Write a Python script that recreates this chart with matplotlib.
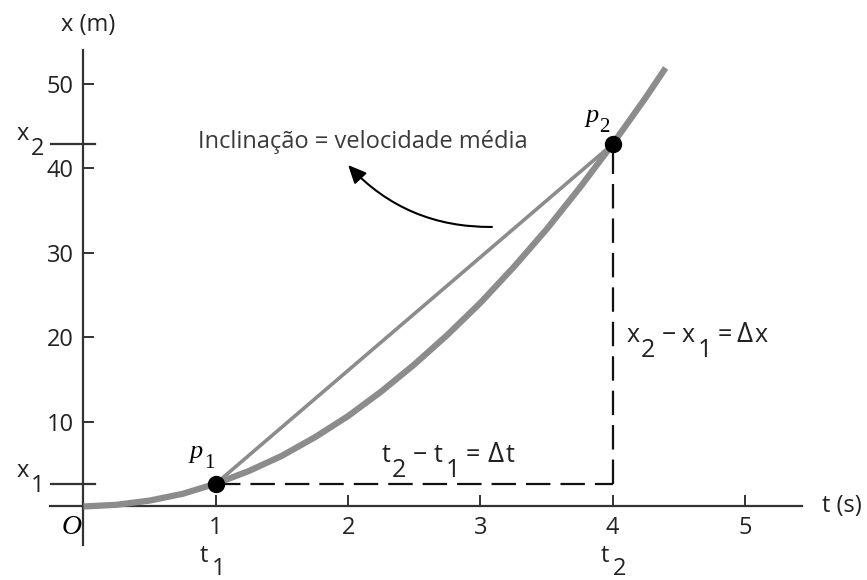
import matplotlib
matplotlib.use("Agg")
import matplotlib.pyplot as plt
from matplotlib import transforms as mtransforms
from matplotlib.patches import FancyArrowPatch, ArrowStyle

# Position x(t) of the body, sampled along the curve
curve_t = [0.0, 0.25, 0.5, 0.75, 1.0, 1.25, 1.5, 1.75, 2.0, 2.25, 2.5,
           2.75, 3.0, 3.25, 3.5, 3.75, 4.0, 4.25, 4.4]
curve_x = [0.0, 0.2, 0.7, 1.5, 2.7, 4.2, 6.0, 8.2, 10.7, 13.6, 16.8,
           20.3, 24.1, 28.3, 32.8, 37.7, 42.9, 48.4, 51.9]

# The two instants compared
t1, x1 = 1.0, 2.7
t2, x2 = 4.0, 42.9

t_ticks = [1, 2, 3, 4, 5]
x_ticks = [10, 20, 30, 40, 50]

SANS = ["Open Sans", "DejaVu Sans"]
SERIF = ["Liberation Serif", "DejaVu Serif"]
INK = "#222222"
AXIS = "#333333"
GRAY = "#8c8c8c"

plt.rcParams["font.family"] = SANS

fig = plt.figure(figsize=(8.67, 5.80), dpi=100)
ax = fig.add_axes([0, 0, 1, 1])
ax.set_xlim(-0.631, 5.922)
ax.set_ylim(-8.70, 59.94)
ax.patch.set_visible(False)

# axes drawn through the origin
for side in ("top", "right"):
    ax.spines[side].set_visible(False)
ax.spines["left"].set_position(("data", 0))
ax.spines["bottom"].set_position(("data", 0))
ax.spines["left"].set_bounds(-4.56, 54.0)
ax.spines["bottom"].set_bounds(-0.25, 5.43)
for side in ("left", "bottom"):
    ax.spines[side].set_color(AXIS)
    ax.spines[side].set_linewidth(1.6)

ax.set_xticks(t_ticks)
ax.set_yticks(x_ticks)
ax.tick_params(direction="in", length=8, width=1.4, color=AXIS,
               labelsize=17, labelcolor=INK, pad=7)

# curve, chord and the two points
ax.plot(curve_t, curve_x, color=GRAY, lw=4.5, solid_capstyle="butt",
        zorder=3, clip_on=False)
ax.plot([t1, t2], [x1, x2], color=GRAY, lw=2.6, zorder=3)
ax.plot([t1, t2], [x1, x2], "o", ms=11.5, color="black", zorder=5)

# dashed legs of the triangle
ax.plot([t1, t2], [x1, x1], color="#111111", lw=1.6, dashes=(11, 4.5), zorder=2)
ax.plot([t2, t2], [x1, x2], color="#111111", lw=1.6, dashes=(11, 4.5), zorder=2)

# marks for x1 and x2 on the vertical axis
for xv in (x1, x2):
    ax.plot([-0.245, 0.09], [xv, xv], color=AXIS, lw=1.6, clip_on=False)

renderer = fig.canvas.get_renderer()


def chain(x, y, pieces, **kw):
    """Write pieces one after another; drop (px) lowers a piece as a subscript."""
    dx = 0.0
    for s, drop, gap, style in pieces:
        tr = mtransforms.offset_copy(ax.transData, fig=fig, x=dx, y=-drop,
                                     units="dots")
        opts = dict(kw)
        opts.update(style)
        txt = ax.text(x, y, s, transform=tr, ha="left", va="baseline", **opts)
        dx += txt.get_window_extent(renderer).width + gap


txt_kw = dict(fontsize=17, color=INK, family=SANS)
sub = {}
delta = dict(fontsize=20)

chain(-0.503, 3.49, [("x", 0, 2, sub), ("1", 15, 0, sub)], **txt_kw)
chain(-0.503, 43.37, [("x", 0, 2, sub), ("2", 15, 0, sub)], **txt_kw)
chain(0.881, -6.57, [("t", 0, 3, sub), ("1", 13, 0, sub)], **txt_kw)
chain(3.912, -6.57, [("t", 0, 3, sub), ("2", 13, 0, sub)], **txt_kw)

eq_kw = dict(fontsize=18, color=INK, family=SANS)
chain(2.256, 5.27, [("t", 0, 1, sub), ("2", 15, 7, sub), ("\u2212", 0, 6, sub),
                    ("t", 0, 3, sub), ("1", 15, 6, sub), ("=", 0, 7, sub),
                    ("\u0394", 0, 2, delta), ("t", 0, 0, sub)], **eq_kw)
chain(4.108, 19.47, [("x", 0, 1, sub), ("2", 15, 6, sub), ("\u2212", 0, 6, sub),
                     ("x", 0, 3, sub), ("1", 15, 5, sub), ("=", 0, 5, sub),
                     ("\u0394", 0, 2, delta), ("x", 0, 0, sub)], **eq_kw)

p_kw = dict(color="black", family=SERIF)
p_big = dict(fontsize=19, style="italic")
p_small = dict(fontsize=15, style="normal")
chain(0.805, 5.74, [("p", 0, 1, p_big), ("1", 10, 0, p_small)], **p_kw)
chain(3.791, 45.5, [("p", 0, 1, p_big), ("2", 10, 0, p_small)], **p_kw)

ax.text(-0.087, -2.54, "O", family=SERIF, style="italic", fontsize=20,
        color="black", ha="center", va="center")

# axis titles
ax.text(0.034, 56.98, "x (m)", fontsize=17, color=INK, ha="center", va="center")
ax.text(5.733, 0.0, "t (s)", fontsize=17, color=INK, ha="center", va="center")

# slope annotation
ax.text(2.113, 42.43, "Inclina\u00e7\u00e3o = velocidade m\u00e9dia", fontsize=17,
        color="#3a3a3a", ha="center", va="baseline")
arrow = FancyArrowPatch((3.087, 33.08), (2.0, 40.41),
                        connectionstyle="arc3,rad=-0.22",
                        arrowstyle=ArrowStyle("-|>", head_length=0.55, head_width=0.25),
                        mutation_scale=20, lw=1.5, color="black",
                        shrinkA=0, shrinkB=0, zorder=4)
ax.add_patch(arrow)

fig.savefig("out.png", dpi=100)
